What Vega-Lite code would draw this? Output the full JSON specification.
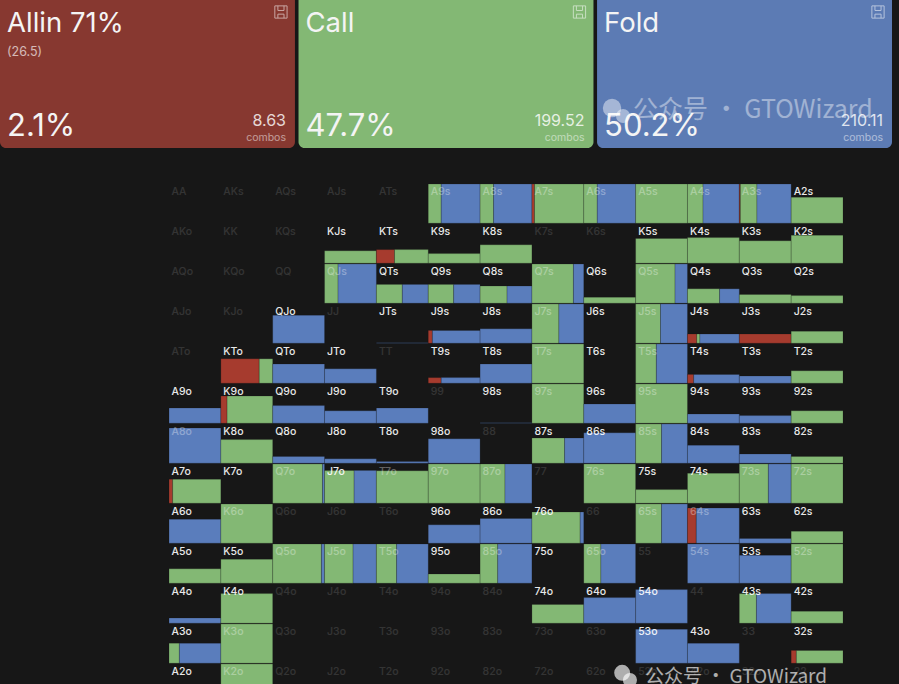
{
"$schema":"https://vega.github.io/schema/vega-lite/v6.json",
"padding":0,
"autosize":{"type":"pad"},
"background":"#171717",
"spacing":36,
"resolve":{"scale":{"color":"independent","opacity":"independent"}},
"config":{"view":{"stroke":null},"concat":{"spacing":36},"text":{"font":"Inter"}},
"datasets":{
"cards":[
{"action":"Allin","title":"Allin 71%","sub":"(26.5)","pct":"2.1%","combos":"8.63","unit":"combos"},
{"action":"Call","title":"Call","sub":"","pct":"47.7%","combos":"199.52","unit":"combos"},
{"action":"Fold","title":"Fold","sub":"","pct":"50.2%","combos":"210.11","unit":"combos"}],
"segments":[
{"hand":"A9s","action":"call","x0":5,"x1":5.25,"y0":0,"y1":0.98},{"hand":"A9s","action":"fold","x0":5.25,"x1":6,"y0":0,"y1":0.98},
{"hand":"A8s","action":"call","x0":6,"x1":6.26,"y0":0,"y1":0.98},{"hand":"A8s","action":"fold","x0":6.26,"x1":7,"y0":0,"y1":0.98},
{"hand":"A7s","action":"allin","x0":7,"x1":7.05,"y0":0,"y1":0.98},{"hand":"A7s","action":"call","x0":7.05,"x1":8,"y0":0,"y1":0.98},
{"hand":"A6s","action":"call","x0":8,"x1":8.26,"y0":0,"y1":0.98},{"hand":"A6s","action":"fold","x0":8.26,"x1":9,"y0":0,"y1":0.98},
{"hand":"A5s","action":"call","x0":9,"x1":10,"y0":0,"y1":0.98},
{"hand":"A4s","action":"call","x0":10,"x1":10.3,"y0":0,"y1":0.98},{"hand":"A4s","action":"fold","x0":10.3,"x1":11,"y0":0,"y1":0.98},
{"hand":"A3s","action":"allin","x0":11,"x1":11.02,"y0":0,"y1":0.98},{"hand":"A3s","action":"call","x0":11.02,"x1":11.34,"y0":0,"y1":0.98},{"hand":"A3s","action":"fold","x0":11.34,"x1":12,"y0":0,"y1":0.98},
{"hand":"A2s","action":"call","x0":12,"x1":13,"y0":0.33,"y1":0.98},
{"hand":"KJs","action":"call","x0":3,"x1":4,"y0":1.67,"y1":1.98},
{"hand":"KTs","action":"allin","x0":4,"x1":4.35,"y0":1.64,"y1":1.98},{"hand":"KTs","action":"call","x0":4.35,"x1":5,"y0":1.64,"y1":1.98},
{"hand":"K9s","action":"call","x0":5,"x1":6,"y0":1.74,"y1":1.98},
{"hand":"K8s","action":"call","x0":6,"x1":7,"y0":1.52,"y1":1.98},
{"hand":"K5s","action":"call","x0":9,"x1":10,"y0":1.36,"y1":1.98},
{"hand":"K4s","action":"call","x0":10,"x1":11,"y0":1.34,"y1":1.98},
{"hand":"K3s","action":"call","x0":11,"x1":12,"y0":1.42,"y1":1.98},
{"hand":"K2s","action":"call","x0":12,"x1":13,"y0":1.28,"y1":1.98},
{"hand":"QJs","action":"call","x0":3,"x1":3.26,"y0":2,"y1":2.98},{"hand":"QJs","action":"fold","x0":3.26,"x1":4,"y0":2,"y1":2.98},
{"hand":"QTs","action":"call","x0":4,"x1":4.5,"y0":2.51,"y1":2.98},{"hand":"QTs","action":"fold","x0":4.5,"x1":5,"y0":2.51,"y1":2.98},
{"hand":"Q9s","action":"call","x0":5,"x1":5.49,"y0":2.51,"y1":2.98},{"hand":"Q9s","action":"fold","x0":5.49,"x1":6,"y0":2.51,"y1":2.98},
{"hand":"Q8s","action":"call","x0":6,"x1":6.52,"y0":2.55,"y1":2.98},{"hand":"Q8s","action":"fold","x0":6.52,"x1":7,"y0":2.55,"y1":2.98},
{"hand":"Q7s","action":"call","x0":7,"x1":7.8,"y0":2,"y1":2.98},{"hand":"Q7s","action":"fold","x0":7.8,"x1":8,"y0":2,"y1":2.98},
{"hand":"Q6s","action":"call","x0":8,"x1":9,"y0":2.83,"y1":2.98},
{"hand":"Q5s","action":"call","x0":9,"x1":9.76,"y0":2,"y1":2.98},{"hand":"Q5s","action":"fold","x0":9.76,"x1":10,"y0":2,"y1":2.98},
{"hand":"Q4s","action":"call","x0":10,"x1":10.62,"y0":2.62,"y1":2.98},{"hand":"Q4s","action":"fold","x0":10.62,"x1":11,"y0":2.62,"y1":2.98},
{"hand":"Q3s","action":"call","x0":11,"x1":12,"y0":2.76,"y1":2.98},
{"hand":"Q2s","action":"call","x0":12,"x1":13,"y0":2.79,"y1":2.98},
{"hand":"QJo","action":"fold","x0":2,"x1":3,"y0":3.28,"y1":3.98},
{"hand":"JTs","action":"fold","x0":4,"x1":5,"y0":3.97,"y1":3.98},
{"hand":"J9s","action":"allin","x0":5,"x1":5.08,"y0":3.66,"y1":3.98},{"hand":"J9s","action":"fold","x0":5.08,"x1":6,"y0":3.66,"y1":3.98},
{"hand":"J8s","action":"fold","x0":6,"x1":7,"y0":3.62,"y1":3.98},
{"hand":"J7s","action":"call","x0":7,"x1":7.52,"y0":3,"y1":3.98},{"hand":"J7s","action":"fold","x0":7.52,"x1":8,"y0":3,"y1":3.98},
{"hand":"J5s","action":"call","x0":9,"x1":9.48,"y0":3,"y1":3.98},{"hand":"J5s","action":"fold","x0":9.48,"x1":10,"y0":3,"y1":3.98},
{"hand":"J4s","action":"allin","x0":10,"x1":10.18,"y0":3.75,"y1":3.98},{"hand":"J4s","action":"call","x0":10.18,"x1":10.24,"y0":3.75,"y1":3.98},{"hand":"J4s","action":"fold","x0":10.24,"x1":11,"y0":3.75,"y1":3.98},
{"hand":"J3s","action":"allin","x0":11,"x1":12,"y0":3.75,"y1":3.98},
{"hand":"J2s","action":"call","x0":12,"x1":13,"y0":3.68,"y1":3.98},
{"hand":"KTo","action":"allin","x0":1,"x1":1.74,"y0":4.37,"y1":4.98},{"hand":"KTo","action":"call","x0":1.74,"x1":2,"y0":4.37,"y1":4.98},
{"hand":"QTo","action":"fold","x0":2,"x1":3,"y0":4.5,"y1":4.98},
{"hand":"JTo","action":"fold","x0":3,"x1":4,"y0":4.62,"y1":4.98},
{"hand":"T9s","action":"allin","x0":5,"x1":5.25,"y0":4.84,"y1":4.98},{"hand":"T9s","action":"fold","x0":5.25,"x1":6,"y0":4.84,"y1":4.98},
{"hand":"T8s","action":"fold","x0":6,"x1":7,"y0":4.5,"y1":4.98},
{"hand":"T7s","action":"call","x0":7,"x1":8,"y0":4,"y1":4.98},
{"hand":"T5s","action":"call","x0":9,"x1":9.4,"y0":4,"y1":4.98},{"hand":"T5s","action":"fold","x0":9.4,"x1":10,"y0":4,"y1":4.98},
{"hand":"T4s","action":"allin","x0":10,"x1":10.12,"y0":4.76,"y1":4.98},{"hand":"T4s","action":"fold","x0":10.12,"x1":11,"y0":4.76,"y1":4.98},
{"hand":"T3s","action":"fold","x0":11,"x1":12,"y0":4.8,"y1":4.98},
{"hand":"T2s","action":"call","x0":12,"x1":13,"y0":4.67,"y1":4.98},
{"hand":"A9o","action":"fold","x0":0,"x1":1,"y0":5.6,"y1":5.98},
{"hand":"K9o","action":"allin","x0":1,"x1":1.12,"y0":5.3,"y1":5.98},{"hand":"K9o","action":"call","x0":1.12,"x1":2,"y0":5.3,"y1":5.98},
{"hand":"Q9o","action":"fold","x0":2,"x1":3,"y0":5.54,"y1":5.98},
{"hand":"J9o","action":"fold","x0":3,"x1":4,"y0":5.67,"y1":5.98},
{"hand":"T9o","action":"fold","x0":4,"x1":5,"y0":5.6,"y1":5.98},
{"hand":"98s","action":"fold","x0":6,"x1":7,"y0":5.97,"y1":5.98},
{"hand":"97s","action":"call","x0":7,"x1":8,"y0":5,"y1":5.98},
{"hand":"96s","action":"fold","x0":8,"x1":9,"y0":5.5,"y1":5.98},
{"hand":"95s","action":"call","x0":9,"x1":10,"y0":5,"y1":5.98},
{"hand":"94s","action":"fold","x0":10,"x1":11,"y0":5.75,"y1":5.98},
{"hand":"93s","action":"fold","x0":11,"x1":12,"y0":5.79,"y1":5.98},
{"hand":"92s","action":"call","x0":12,"x1":13,"y0":5.67,"y1":5.98},
{"hand":"A8o","action":"fold","x0":0,"x1":1,"y0":6.1,"y1":6.98},
{"hand":"K8o","action":"call","x0":1,"x1":2,"y0":6.39,"y1":6.98},
{"hand":"Q8o","action":"fold","x0":2,"x1":3,"y0":6.81,"y1":6.98},
{"hand":"J8o","action":"fold","x0":3,"x1":4,"y0":6.87,"y1":6.98},
{"hand":"T8o","action":"fold","x0":4,"x1":5,"y0":6.94,"y1":6.98},
{"hand":"98o","action":"fold","x0":5,"x1":6,"y0":6.37,"y1":6.98},
{"hand":"87s","action":"call","x0":7,"x1":7.63,"y0":6.35,"y1":6.98},{"hand":"87s","action":"fold","x0":7.63,"x1":8,"y0":6.35,"y1":6.98},
{"hand":"86s","action":"fold","x0":8,"x1":9,"y0":6.22,"y1":6.98},
{"hand":"85s","action":"call","x0":9,"x1":9.5,"y0":6,"y1":6.98},{"hand":"85s","action":"fold","x0":9.5,"x1":10,"y0":6,"y1":6.98},
{"hand":"84s","action":"fold","x0":10,"x1":11,"y0":6.53,"y1":6.98},
{"hand":"83s","action":"fold","x0":11,"x1":12,"y0":6.75,"y1":6.98},
{"hand":"82s","action":"call","x0":12,"x1":13,"y0":6.81,"y1":6.98},
{"hand":"A7o","action":"allin","x0":0,"x1":0.07,"y0":7.38,"y1":7.98},{"hand":"A7o","action":"call","x0":0.07,"x1":1,"y0":7.38,"y1":7.98},
{"hand":"Q7o","action":"call","x0":2,"x1":2.96,"y0":7,"y1":7.98},{"hand":"Q7o","action":"fold","x0":2.96,"x1":3,"y0":7,"y1":7.98},
{"hand":"J7o","action":"call","x0":3,"x1":3.57,"y0":7.16,"y1":7.98},{"hand":"J7o","action":"fold","x0":3.57,"x1":4,"y0":7.16,"y1":7.98},
{"hand":"T7o","action":"call","x0":4,"x1":5,"y0":7.17,"y1":7.98},
{"hand":"97o","action":"call","x0":5,"x1":6,"y0":7,"y1":7.98},
{"hand":"87o","action":"call","x0":6,"x1":6.48,"y0":7,"y1":7.98},{"hand":"87o","action":"fold","x0":6.48,"x1":7,"y0":7,"y1":7.98},
{"hand":"76s","action":"call","x0":8,"x1":9,"y0":7,"y1":7.98},
{"hand":"75s","action":"call","x0":9,"x1":10,"y0":7.64,"y1":7.98},
{"hand":"74s","action":"call","x0":10,"x1":11,"y0":7.23,"y1":7.98},
{"hand":"73s","action":"call","x0":11,"x1":11.56,"y0":7,"y1":7.98},{"hand":"73s","action":"fold","x0":11.56,"x1":12,"y0":7,"y1":7.98},
{"hand":"72s","action":"call","x0":12,"x1":13,"y0":7,"y1":7.98},
{"hand":"A6o","action":"fold","x0":0,"x1":1,"y0":8.38,"y1":8.98},
{"hand":"K6o","action":"call","x0":1,"x1":2,"y0":8,"y1":8.98},
{"hand":"96o","action":"fold","x0":5,"x1":6,"y0":8.52,"y1":8.98},
{"hand":"86o","action":"fold","x0":6,"x1":7,"y0":8.36,"y1":8.98},
{"hand":"76o","action":"call","x0":7,"x1":7.93,"y0":8.2,"y1":8.98},{"hand":"76o","action":"fold","x0":7.93,"x1":8,"y0":8.2,"y1":8.98},
{"hand":"65s","action":"call","x0":9,"x1":9.5,"y0":8,"y1":8.98},{"hand":"65s","action":"fold","x0":9.5,"x1":10,"y0":8,"y1":8.98},
{"hand":"64s","action":"allin","x0":10,"x1":10.17,"y0":8.1,"y1":8.98},{"hand":"64s","action":"fold","x0":10.17,"x1":11,"y0":8.1,"y1":8.98},
{"hand":"63s","action":"fold","x0":11,"x1":12,"y0":8.86,"y1":8.98},
{"hand":"62s","action":"call","x0":12,"x1":13,"y0":8.68,"y1":8.98},
{"hand":"A5o","action":"call","x0":0,"x1":1,"y0":9.62,"y1":9.98},
{"hand":"K5o","action":"call","x0":1,"x1":2,"y0":9.38,"y1":9.98},
{"hand":"Q5o","action":"call","x0":2,"x1":2.94,"y0":9,"y1":9.98},{"hand":"Q5o","action":"fold","x0":2.94,"x1":3,"y0":9,"y1":9.98},
{"hand":"J5o","action":"call","x0":3,"x1":3.55,"y0":9,"y1":9.98},{"hand":"J5o","action":"fold","x0":3.55,"x1":4,"y0":9,"y1":9.98},
{"hand":"T5o","action":"call","x0":4,"x1":4.39,"y0":9,"y1":9.98},{"hand":"T5o","action":"fold","x0":4.39,"x1":5,"y0":9,"y1":9.98},
{"hand":"95o","action":"call","x0":5,"x1":6,"y0":9.75,"y1":9.98},
{"hand":"85o","action":"call","x0":6,"x1":6.34,"y0":9,"y1":9.98},{"hand":"85o","action":"fold","x0":6.34,"x1":7,"y0":9,"y1":9.98},
{"hand":"65o","action":"call","x0":8,"x1":8.33,"y0":9,"y1":9.98},{"hand":"65o","action":"fold","x0":8.33,"x1":9,"y0":9,"y1":9.98},
{"hand":"54s","action":"fold","x0":10,"x1":11,"y0":9,"y1":9.98},
{"hand":"53s","action":"fold","x0":11,"x1":12,"y0":9.28,"y1":9.98},
{"hand":"52s","action":"call","x0":12,"x1":13,"y0":9,"y1":9.98},
{"hand":"A4o","action":"fold","x0":0,"x1":1,"y0":10.85,"y1":10.98},
{"hand":"K4o","action":"call","x0":1,"x1":2,"y0":10.24,"y1":10.98},
{"hand":"74o","action":"call","x0":7,"x1":8,"y0":10.51,"y1":10.98},
{"hand":"64o","action":"fold","x0":8,"x1":9,"y0":10.34,"y1":10.98},
{"hand":"54o","action":"fold","x0":9,"x1":10,"y0":10.14,"y1":10.98},
{"hand":"43s","action":"call","x0":11,"x1":11.33,"y0":10.24,"y1":10.98},{"hand":"43s","action":"fold","x0":11.33,"x1":12,"y0":10.24,"y1":10.98},
{"hand":"42s","action":"call","x0":12,"x1":13,"y0":10.68,"y1":10.98},
{"hand":"A3o","action":"call","x0":0,"x1":0.2,"y0":11.48,"y1":11.98},{"hand":"A3o","action":"fold","x0":0.2,"x1":1,"y0":11.48,"y1":11.98},
{"hand":"K3o","action":"call","x0":1,"x1":2,"y0":11,"y1":11.98},
{"hand":"53o","action":"fold","x0":9,"x1":10,"y0":11.13,"y1":11.98},
{"hand":"43o","action":"fold","x0":10,"x1":11,"y0":11.48,"y1":11.98},
{"hand":"32s","action":"allin","x0":12,"x1":12.1,"y0":11.66,"y1":11.98},{"hand":"32s","action":"call","x0":12.1,"x1":13,"y0":11.66,"y1":11.98},
{"hand":"K2o","action":"call","x0":1,"x1":2,"y0":12,"y1":12.98}],
"labels":[
{"hand":"AA","col":0,"row":0,"tone":"dim"},{"hand":"AKs","col":1,"row":0,"tone":"dim"},{"hand":"AQs","col":2,"row":0,"tone":"dim"},{"hand":"AJs","col":3,"row":0,"tone":"dim"},{"hand":"ATs","col":4,"row":0,"tone":"dim"},{"hand":"A9s","col":5,"row":0,"tone":"over"},{"hand":"A8s","col":6,"row":0,"tone":"over"},{"hand":"A7s","col":7,"row":0,"tone":"over"},{"hand":"A6s","col":8,"row":0,"tone":"over"},{"hand":"A5s","col":9,"row":0,"tone":"over"},{"hand":"A4s","col":10,"row":0,"tone":"over"},{"hand":"A3s","col":11,"row":0,"tone":"over"},{"hand":"A2s","col":12,"row":0,"tone":"live"},
{"hand":"AKo","col":0,"row":1,"tone":"dim"},{"hand":"KK","col":1,"row":1,"tone":"dim"},{"hand":"KQs","col":2,"row":1,"tone":"dim"},{"hand":"KJs","col":3,"row":1,"tone":"live"},{"hand":"KTs","col":4,"row":1,"tone":"live"},{"hand":"K9s","col":5,"row":1,"tone":"live"},{"hand":"K8s","col":6,"row":1,"tone":"live"},{"hand":"K7s","col":7,"row":1,"tone":"dim"},{"hand":"K6s","col":8,"row":1,"tone":"dim"},{"hand":"K5s","col":9,"row":1,"tone":"live"},{"hand":"K4s","col":10,"row":1,"tone":"live"},{"hand":"K3s","col":11,"row":1,"tone":"live"},{"hand":"K2s","col":12,"row":1,"tone":"live"},
{"hand":"AQo","col":0,"row":2,"tone":"dim"},{"hand":"KQo","col":1,"row":2,"tone":"dim"},{"hand":"QQ","col":2,"row":2,"tone":"dim"},{"hand":"QJs","col":3,"row":2,"tone":"over"},{"hand":"QTs","col":4,"row":2,"tone":"live"},{"hand":"Q9s","col":5,"row":2,"tone":"live"},{"hand":"Q8s","col":6,"row":2,"tone":"live"},{"hand":"Q7s","col":7,"row":2,"tone":"over"},{"hand":"Q6s","col":8,"row":2,"tone":"live"},{"hand":"Q5s","col":9,"row":2,"tone":"over"},{"hand":"Q4s","col":10,"row":2,"tone":"live"},{"hand":"Q3s","col":11,"row":2,"tone":"live"},{"hand":"Q2s","col":12,"row":2,"tone":"live"},
{"hand":"AJo","col":0,"row":3,"tone":"dim"},{"hand":"KJo","col":1,"row":3,"tone":"dim"},{"hand":"QJo","col":2,"row":3,"tone":"live"},{"hand":"JJ","col":3,"row":3,"tone":"dim"},{"hand":"JTs","col":4,"row":3,"tone":"live"},{"hand":"J9s","col":5,"row":3,"tone":"live"},{"hand":"J8s","col":6,"row":3,"tone":"live"},{"hand":"J7s","col":7,"row":3,"tone":"over"},{"hand":"J6s","col":8,"row":3,"tone":"live"},{"hand":"J5s","col":9,"row":3,"tone":"over"},{"hand":"J4s","col":10,"row":3,"tone":"live"},{"hand":"J3s","col":11,"row":3,"tone":"live"},{"hand":"J2s","col":12,"row":3,"tone":"live"},
{"hand":"ATo","col":0,"row":4,"tone":"dim"},{"hand":"KTo","col":1,"row":4,"tone":"live"},{"hand":"QTo","col":2,"row":4,"tone":"live"},{"hand":"JTo","col":3,"row":4,"tone":"live"},{"hand":"TT","col":4,"row":4,"tone":"dim"},{"hand":"T9s","col":5,"row":4,"tone":"live"},{"hand":"T8s","col":6,"row":4,"tone":"live"},{"hand":"T7s","col":7,"row":4,"tone":"over"},{"hand":"T6s","col":8,"row":4,"tone":"live"},{"hand":"T5s","col":9,"row":4,"tone":"over"},{"hand":"T4s","col":10,"row":4,"tone":"live"},{"hand":"T3s","col":11,"row":4,"tone":"live"},{"hand":"T2s","col":12,"row":4,"tone":"live"},
{"hand":"A9o","col":0,"row":5,"tone":"live"},{"hand":"K9o","col":1,"row":5,"tone":"live"},{"hand":"Q9o","col":2,"row":5,"tone":"live"},{"hand":"J9o","col":3,"row":5,"tone":"live"},{"hand":"T9o","col":4,"row":5,"tone":"live"},{"hand":"99","col":5,"row":5,"tone":"dim"},{"hand":"98s","col":6,"row":5,"tone":"live"},{"hand":"97s","col":7,"row":5,"tone":"over"},{"hand":"96s","col":8,"row":5,"tone":"live"},{"hand":"95s","col":9,"row":5,"tone":"over"},{"hand":"94s","col":10,"row":5,"tone":"live"},{"hand":"93s","col":11,"row":5,"tone":"live"},{"hand":"92s","col":12,"row":5,"tone":"live"},
{"hand":"A8o","col":0,"row":6,"tone":"over"},{"hand":"K8o","col":1,"row":6,"tone":"live"},{"hand":"Q8o","col":2,"row":6,"tone":"live"},{"hand":"J8o","col":3,"row":6,"tone":"live"},{"hand":"T8o","col":4,"row":6,"tone":"live"},{"hand":"98o","col":5,"row":6,"tone":"live"},{"hand":"88","col":6,"row":6,"tone":"dim"},{"hand":"87s","col":7,"row":6,"tone":"live"},{"hand":"86s","col":8,"row":6,"tone":"live"},{"hand":"85s","col":9,"row":6,"tone":"over"},{"hand":"84s","col":10,"row":6,"tone":"live"},{"hand":"83s","col":11,"row":6,"tone":"live"},{"hand":"82s","col":12,"row":6,"tone":"live"},
{"hand":"A7o","col":0,"row":7,"tone":"live"},{"hand":"K7o","col":1,"row":7,"tone":"live"},{"hand":"Q7o","col":2,"row":7,"tone":"over"},{"hand":"J7o","col":3,"row":7,"tone":"live"},{"hand":"T7o","col":4,"row":7,"tone":"over"},{"hand":"97o","col":5,"row":7,"tone":"over"},{"hand":"87o","col":6,"row":7,"tone":"over"},{"hand":"77","col":7,"row":7,"tone":"dim"},{"hand":"76s","col":8,"row":7,"tone":"over"},{"hand":"75s","col":9,"row":7,"tone":"live"},{"hand":"74s","col":10,"row":7,"tone":"live"},{"hand":"73s","col":11,"row":7,"tone":"over"},{"hand":"72s","col":12,"row":7,"tone":"over"},
{"hand":"A6o","col":0,"row":8,"tone":"live"},{"hand":"K6o","col":1,"row":8,"tone":"over"},{"hand":"Q6o","col":2,"row":8,"tone":"dim"},{"hand":"J6o","col":3,"row":8,"tone":"dim"},{"hand":"T6o","col":4,"row":8,"tone":"dim"},{"hand":"96o","col":5,"row":8,"tone":"live"},{"hand":"86o","col":6,"row":8,"tone":"live"},{"hand":"76o","col":7,"row":8,"tone":"live"},{"hand":"66","col":8,"row":8,"tone":"dim"},{"hand":"65s","col":9,"row":8,"tone":"over"},{"hand":"64s","col":10,"row":8,"tone":"over"},{"hand":"63s","col":11,"row":8,"tone":"live"},{"hand":"62s","col":12,"row":8,"tone":"live"},
{"hand":"A5o","col":0,"row":9,"tone":"live"},{"hand":"K5o","col":1,"row":9,"tone":"live"},{"hand":"Q5o","col":2,"row":9,"tone":"over"},{"hand":"J5o","col":3,"row":9,"tone":"over"},{"hand":"T5o","col":4,"row":9,"tone":"over"},{"hand":"95o","col":5,"row":9,"tone":"live"},{"hand":"85o","col":6,"row":9,"tone":"over"},{"hand":"75o","col":7,"row":9,"tone":"live"},{"hand":"65o","col":8,"row":9,"tone":"over"},{"hand":"55","col":9,"row":9,"tone":"dim"},{"hand":"54s","col":10,"row":9,"tone":"over"},{"hand":"53s","col":11,"row":9,"tone":"live"},{"hand":"52s","col":12,"row":9,"tone":"over"},
{"hand":"A4o","col":0,"row":10,"tone":"live"},{"hand":"K4o","col":1,"row":10,"tone":"live"},{"hand":"Q4o","col":2,"row":10,"tone":"dim"},{"hand":"J4o","col":3,"row":10,"tone":"dim"},{"hand":"T4o","col":4,"row":10,"tone":"dim"},{"hand":"94o","col":5,"row":10,"tone":"dim"},{"hand":"84o","col":6,"row":10,"tone":"dim"},{"hand":"74o","col":7,"row":10,"tone":"live"},{"hand":"64o","col":8,"row":10,"tone":"live"},{"hand":"54o","col":9,"row":10,"tone":"live"},{"hand":"44","col":10,"row":10,"tone":"dim"},{"hand":"43s","col":11,"row":10,"tone":"live"},{"hand":"42s","col":12,"row":10,"tone":"live"},
{"hand":"A3o","col":0,"row":11,"tone":"live"},{"hand":"K3o","col":1,"row":11,"tone":"over"},{"hand":"Q3o","col":2,"row":11,"tone":"dim"},{"hand":"J3o","col":3,"row":11,"tone":"dim"},{"hand":"T3o","col":4,"row":11,"tone":"dim"},{"hand":"93o","col":5,"row":11,"tone":"dim"},{"hand":"83o","col":6,"row":11,"tone":"dim"},{"hand":"73o","col":7,"row":11,"tone":"dim"},{"hand":"63o","col":8,"row":11,"tone":"dim"},{"hand":"53o","col":9,"row":11,"tone":"live"},{"hand":"43o","col":10,"row":11,"tone":"live"},{"hand":"33","col":11,"row":11,"tone":"dim"},{"hand":"32s","col":12,"row":11,"tone":"live"},
{"hand":"A2o","col":0,"row":12,"tone":"live"},{"hand":"K2o","col":1,"row":12,"tone":"over"},{"hand":"Q2o","col":2,"row":12,"tone":"dim"},{"hand":"J2o","col":3,"row":12,"tone":"dim"},{"hand":"T2o","col":4,"row":12,"tone":"dim"},{"hand":"92o","col":5,"row":12,"tone":"dim"},{"hand":"82o","col":6,"row":12,"tone":"dim"},{"hand":"72o","col":7,"row":12,"tone":"dim"},{"hand":"62o","col":8,"row":12,"tone":"dim"},{"hand":"52o","col":9,"row":12,"tone":"dim"},{"hand":"42o","col":10,"row":12,"tone":"dim"},{"hand":"32o","col":11,"row":12,"tone":"dim"},{"hand":"22","col":12,"row":12,"tone":"dim"}]
},
"vconcat":[
{"width":892,"height":148,"data":{"name":"cards"},
"layer":[
{"mark":{"type":"rect","cornerRadiusBottomLeft":6,"cornerRadiusBottomRight":6},
"encoding":{"x":{"field":"action","type":"nominal","axis":null,"scale":{"type":"band","domain":["Allin","Call","Fold"],"paddingInner":0.012,"paddingOuter":0}},
"color":{"field":"action","type":"nominal","legend":null,"scale":{"domain":["Allin","Call","Fold"],"range":["#873830","#83B874","#5C7BB4"]}}}},
{"mark":{"type":"text","align":"left","dx":7,"fontSize":27.5,"fontWeight":400,"font":"Inter","color":"#f4f4f4"},
"encoding":{"x":{"field":"action","type":"nominal","bandPosition":0,"axis":null},"y":{"datum":24,"type":"quantitative","axis":null,"scale":{"domain":[0,148],"reverse":true,"nice":false}},"text":{"field":"title"}}},
{"mark":{"type":"text","align":"left","dx":7,"fontSize":12.5,"font":"Inter","color":"#ffffff","opacity":0.65},
"encoding":{"x":{"field":"action","type":"nominal","bandPosition":0,"axis":null},"y":{"datum":52,"type":"quantitative","axis":null},"text":{"field":"sub"}}},
{"mark":{"type":"text","align":"left","dx":7,"fontSize":31,"fontWeight":400,"font":"Inter","color":"#f4f4f4"},
"encoding":{"x":{"field":"action","type":"nominal","bandPosition":0,"axis":null},"y":{"datum":127,"type":"quantitative","axis":null},"text":{"field":"pct"}}},
{"mark":{"type":"text","align":"right","dx":-9,"fontSize":16,"font":"Inter","color":"#ffffff","opacity":0.8},
"encoding":{"x":{"field":"action","type":"nominal","bandPosition":1,"axis":null},"y":{"datum":121,"type":"quantitative","axis":null},"text":{"field":"combos"}}},
{"mark":{"type":"text","align":"right","dx":-9,"fontSize":10.5,"font":"Inter","color":"#ffffff","opacity":0.5},
"encoding":{"x":{"field":"action","type":"nominal","bandPosition":1,"axis":null},"y":{"datum":138,"type":"quantitative","axis":null},"text":{"field":"unit"}}},
{"mark":{"type":"point","filled":false,"xOffset":-14,"size":150,"strokeWidth":1,"color":"#ffffff","opacity":0.55,"shape":"M-1,-1H1V1H-1Z M-0.5,-1V-0.25H0.5V-1 M-0.5,1V0.35H0.5V1"},
"encoding":{"x":{"field":"action","type":"nominal","bandPosition":1,"axis":null},"y":{"datum":12,"type":"quantitative","axis":null}}},
{"transform":[{"filter":"datum.action === 'Fold'"}],"mark":{"type":"text","align":"left","dx":36,"fontSize":25,"font":"Noto Sans CJK SC","color":"#ffffff","opacity":0.42},
"encoding":{"x":{"field":"action","type":"nominal","bandPosition":0,"axis":null},"y":{"datum":110,"type":"quantitative","axis":null},"text":{"value":"公众号 · GTOWizard"}}},
{"transform":[{"filter":"datum.action === 'Fold'"}],"mark":{"type":"point","filled":true,"size":340,"xOffset":15,"color":"#ffffff","opacity":0.45},
"encoding":{"x":{"field":"action","type":"nominal","bandPosition":0,"axis":null},"y":{"datum":108,"type":"quantitative","axis":null}}},
{"transform":[{"filter":"datum.action === 'Fold'"}],"mark":{"type":"point","filled":true,"size":200,"xOffset":26,"color":"#ffffff","opacity":0.45},
"encoding":{"x":{"field":"action","type":"nominal","bandPosition":0,"axis":null},"y":{"datum":116,"type":"quantitative","axis":null}}}
]},
{"width":899,"height":500,
"layer":[
{"data":{"name":"segments"},"mark":{"type":"rect","clip":true,"stroke":"#141414","strokeOpacity":0.2,"strokeWidth":1},
"encoding":{
"x":{"field":"x0","type":"quantitative","axis":null,"scale":{"domain":[-3.26,14.08],"nice":false,"zero":false}},"x2":{"field":"x1"},
"y":{"field":"y0","type":"quantitative","axis":null,"scale":{"domain":[0,12.5],"reverse":true,"nice":false,"zero":false}},"y2":{"field":"y1"},
"color":{"field":"action","type":"nominal","legend":null,"scale":{"domain":["allin","call","fold"],"range":["#A63B2E","#83B874","#5A7DBC"]}}}},
{"data":{"name":"labels"},"mark":{"type":"text","align":"left","baseline":"middle","dx":2.5,"dy":8,"fontSize":10.5,"fontWeight":500,"font":"Inter","color":"#ffffff"},
"encoding":{
"x":{"field":"col","type":"quantitative","axis":null},
"y":{"field":"row","type":"quantitative","axis":null},
"text":{"field":"hand"},
"opacity":{"condition":[{"test":"datum.tone === 'over'","value":0.32},{"test":"datum.tone === 'dim'","value":0.12}],"value":0.9}}},
{"data":{"values":[{"mark":"公众号 · GTOWizard"}]},"mark":{"type":"text","align":"left","baseline":"middle","fontSize":19,"font":"Noto Sans CJK SC","color":"#ffffff","opacity":0.65},
"encoding":{"x":{"datum":9.18,"type":"quantitative","axis":null},"y":{"datum":12.32,"type":"quantitative","axis":null},"text":{"field":"mark"}}},
{"data":{"values":[{"mark":"icon"}]},"mark":{"type":"point","filled":true,"size":254,"color":"#ffffff","opacity":0.65},
"encoding":{"x":{"datum":8.74,"type":"quantitative","axis":null},"y":{"datum":12.22,"type":"quantitative","axis":null}}},
{"data":{"values":[{"mark":"icon"}]},"mark":{"type":"point","filled":true,"size":200,"color":"#ffffff","opacity":0.65},
"encoding":{"x":{"datum":8.89,"type":"quantitative","axis":null},"y":{"datum":12.4,"type":"quantitative","axis":null}}}
]}
]
}
